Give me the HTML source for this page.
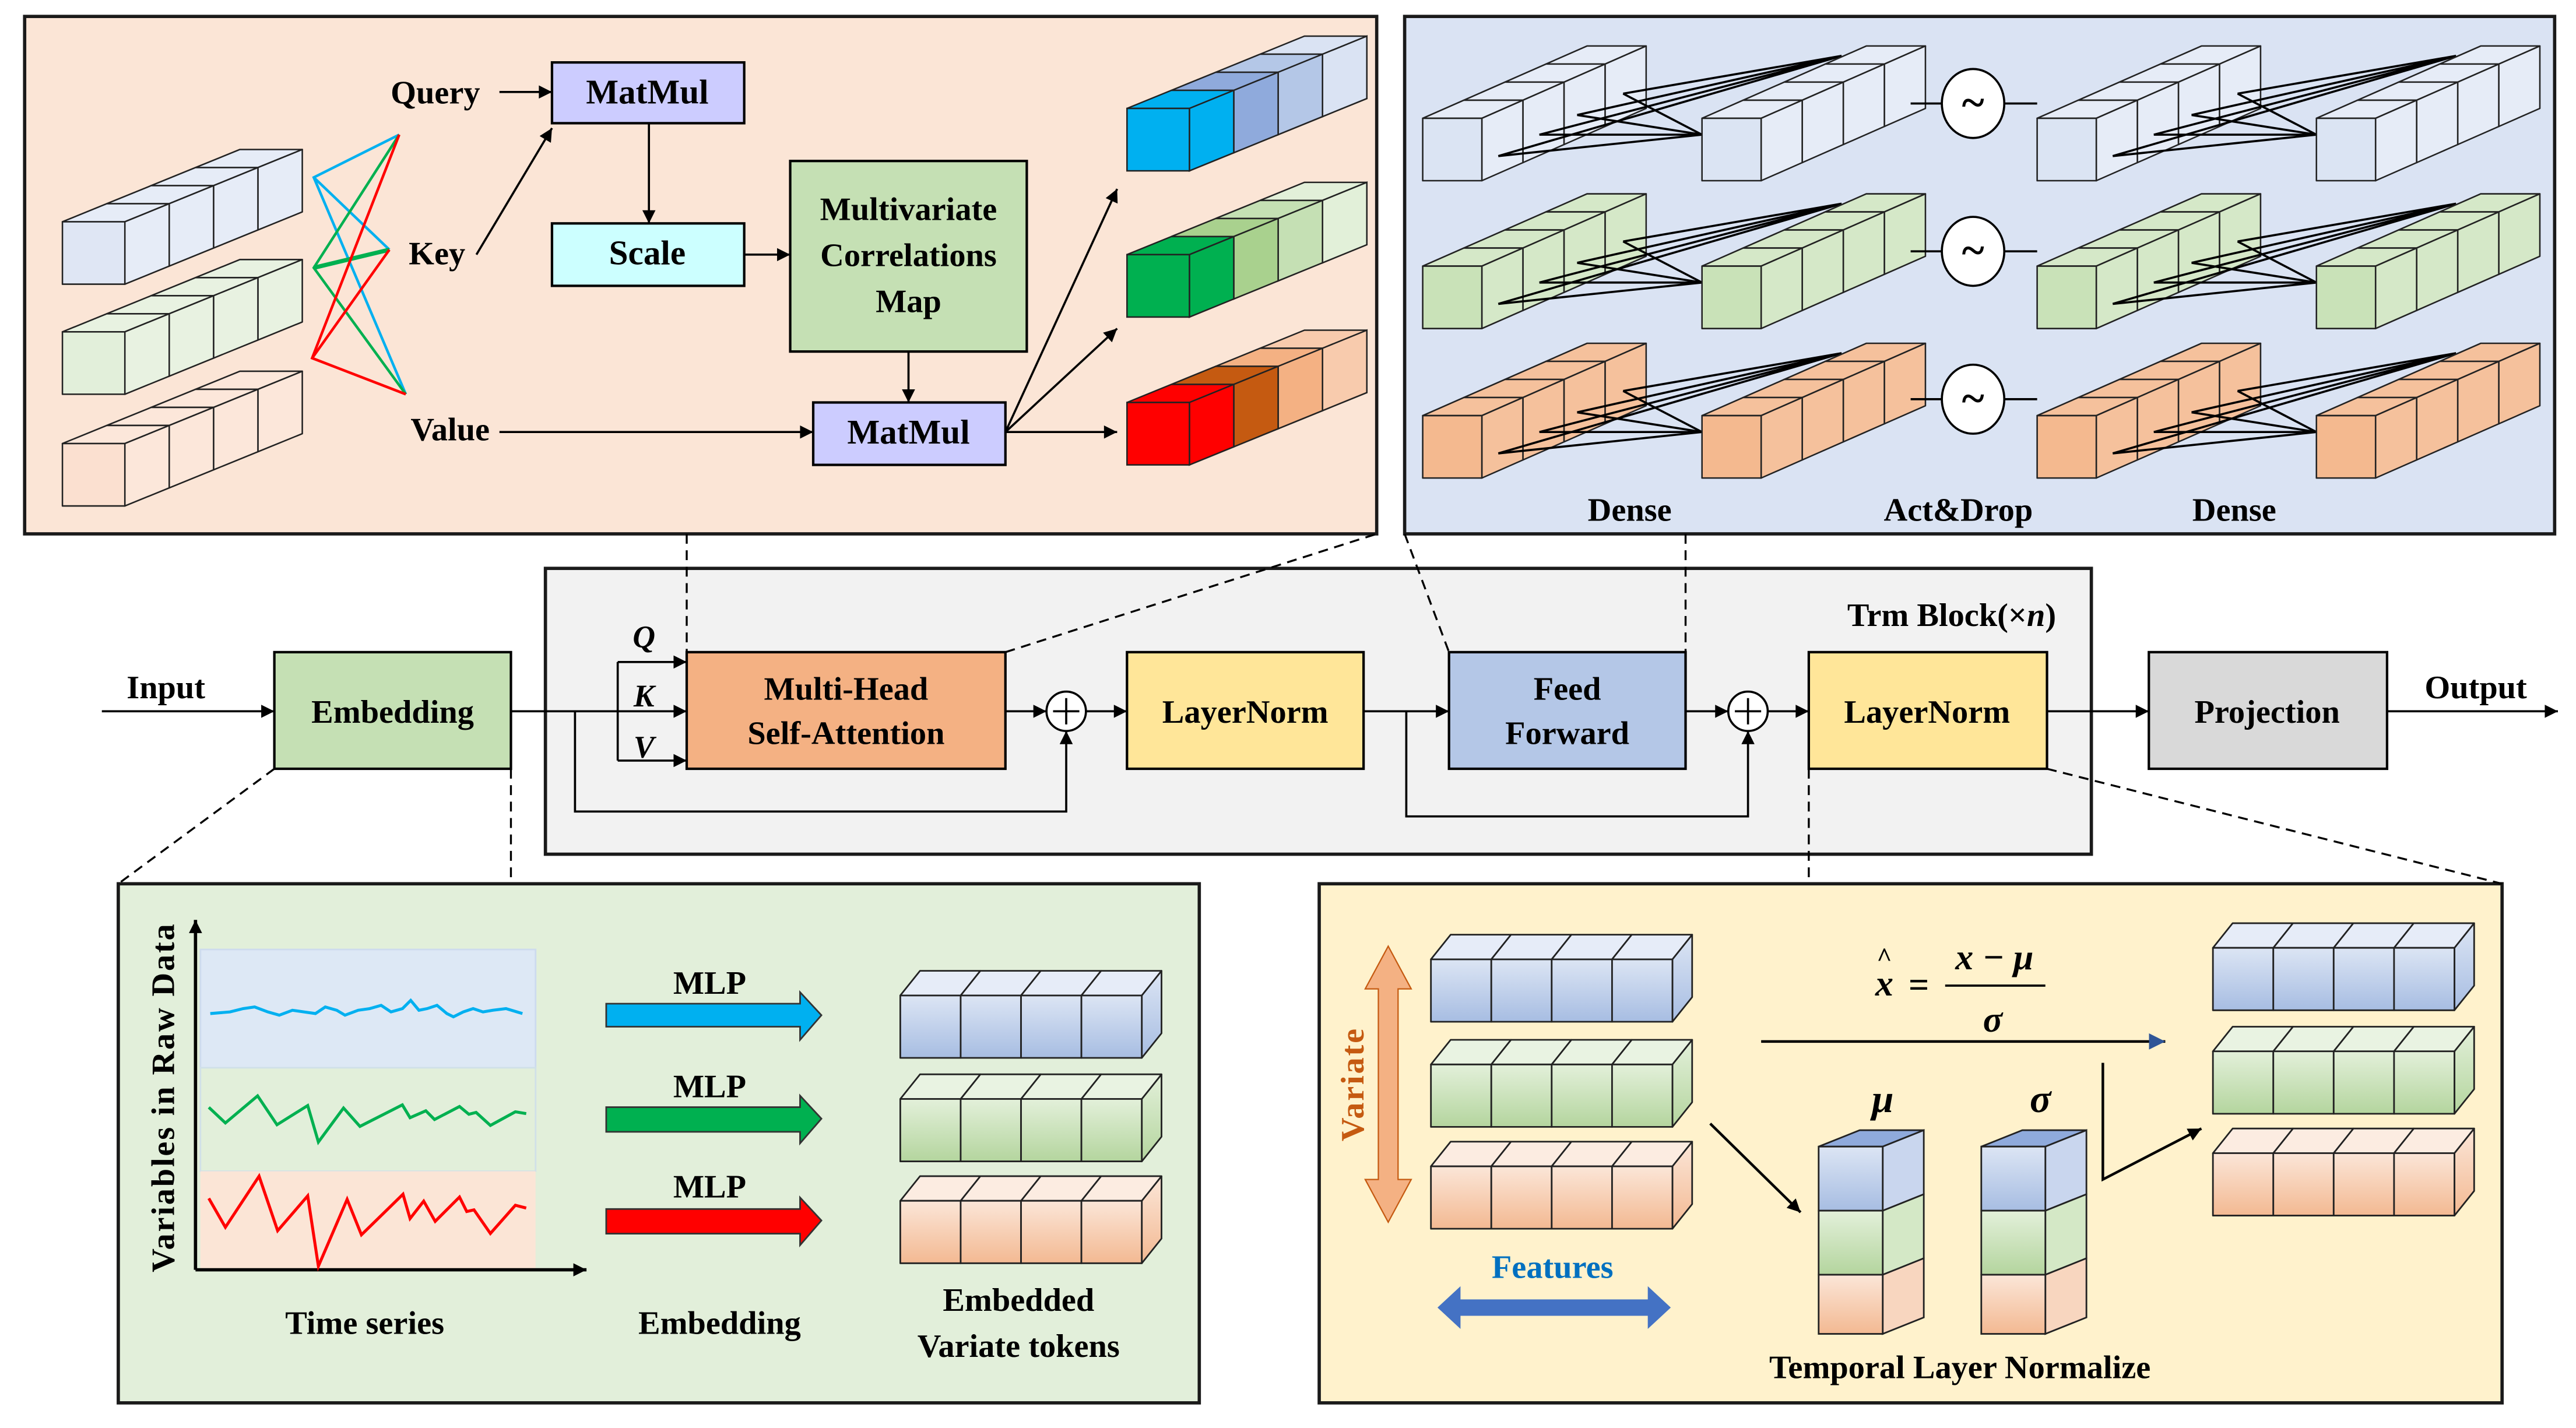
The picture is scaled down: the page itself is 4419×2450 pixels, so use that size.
<!DOCTYPE html>
<html><head><meta charset="utf-8">
<style>
html,body{margin:0;padding:0;background:#fff;}
svg{display:block;}
text{font-family:"Liberation Serif",serif;font-weight:bold;fill:#000;}
</style></head>
<body>
<svg width="4419" height="2450" viewBox="0 0 1568 869.3" preserveAspectRatio="none" xmlns="http://www.w3.org/2000/svg" xmlns:xlink="http://www.w3.org/1999/xlink">
<defs>
<marker id="a" viewBox="0 0 10 10" refX="10" refY="5" markerWidth="10" markerHeight="8" markerUnits="userSpaceOnUse" orient="auto"><path d="M0,0 L10,5 L0,10 z" fill="#000"/></marker>
<marker id="ab" viewBox="0 0 10 10" refX="10" refY="5" markerWidth="10" markerHeight="10" markerUnits="userSpaceOnUse" orient="auto"><path d="M0,0 L10,5 L0,10 z" fill="#2f5597"/></marker>
<linearGradient id="gb" x1="0" y1="0" x2="0" y2="1"><stop offset="0" stop-color="#dce5f4"/><stop offset="1" stop-color="#a7bde2"/></linearGradient>
<linearGradient id="gg" x1="0" y1="0" x2="0" y2="1"><stop offset="0" stop-color="#e3f0da"/><stop offset="1" stop-color="#b4d59e"/></linearGradient>
<linearGradient id="go" x1="0" y1="0" x2="0" y2="1"><stop offset="0" stop-color="#fbe6d8"/><stop offset="1" stop-color="#f3b992"/></linearGradient>

<g id="pA" stroke="#222" stroke-width="0.9" stroke-linejoin="round">
<polygon points="81,-33 119,-33 146,-44 108,-44"/>
<polygon points="54,-22 92,-22 119,-33 81,-33"/>
<polygon points="27,-11 65,-11 92,-22 54,-22"/>
<polygon points="0,0 38,0 65,-11 27,-11"/>
<polygon points="119,-33 146,-44 146,-6 119,5"/>
<polygon points="92,-22 119,-33 119,5 92,16"/>
<polygon points="65,-11 92,-22 92,16 65,27"/>
<polygon points="38,0 65,-11 65,27 38,38"/>
<rect x="0" y="0" width="38" height="38" fill="currentColor"/>
</g>

<g id="pD" stroke="#222" stroke-width="0.9" stroke-linejoin="round">
<polygon points="75,-33 111,-33 136,-44 100,-44"/>
<polygon points="50,-22 86,-22 111,-33 75,-33"/>
<polygon points="25,-11 61,-11 86,-22 50,-22"/>
<polygon points="0,0 36,0 61,-11 25,-11"/>
<polygon points="111,-33 136,-44 136,-6 111,5"/>
<polygon points="86,-22 111,-33 111,5 86,16"/>
<polygon points="61,-11 86,-22 86,16 61,27"/>
<polygon points="36,0 61,-11 61,27 36,38"/>
<rect x="0" y="0" width="36" height="38" fill="currentColor"/>
</g>
<g id="pair">
<use xlink:href="#pD" href="#pD"/>
<path fill="none" stroke="#000" stroke-width="1.3" d="M46,23 L170,10 M46,23 L255,-38 M71,10 L170,10 M71,10 L255,-38 M94,-2 L170,10 M94,-2 L255,-38 M122,-15 L170,10 M122,-15 L255,-38"/>
<use xlink:href="#pD" href="#pD" x="170"/>
</g>

<g id="pB" stroke="#222" stroke-width="1" stroke-linejoin="round">
<polygon points="147,0 159,-15 159,23 147,38"/>
<g fill="currentColor">
<polygon points="0,0 36.75,0 48.75,-15 12,-15"/>
<polygon points="36.75,0 73.5,0 85.5,-15 48.75,-15"/>
<polygon points="73.5,0 110.25,0 122.25,-15 85.5,-15"/>
<polygon points="110.25,0 147,0 159,-15 122.25,-15"/>
</g>
<rect x="0" y="0" width="36.75" height="38"/>
<rect x="36.75" y="0" width="36.75" height="38"/>
<rect x="73.5" y="0" width="36.75" height="38"/>
<rect x="110.25" y="0" width="36.75" height="38"/>
</g>

<g id="col" stroke="#222" stroke-width="1">
<polygon points="0,0 39,0 64,-10 25,-10" fill="#8faadc"/>
<polygon points="39,0 64,-10 64,29 39,39" fill="#c9d6ee"/>
<polygon points="39,39 64,29 64,68 39,78" fill="#d4e8c6"/>
<polygon points="39,78 64,68 64,104 39,114" fill="#f8d6bf"/>
<rect x="0" y="0" width="39" height="39" fill="url(#gb)"/>
<rect x="0" y="39" width="39" height="39" fill="url(#gg)"/>
<rect x="0" y="78" width="39" height="36" fill="url(#go)"/>
</g>
</defs>

<!-- panels -->
<rect x="15" y="10" width="823" height="315" fill="#fbe5d6" stroke="#1a1a1a" stroke-width="2"/>
<rect x="855" y="10" width="700" height="315" fill="#dae3f3" stroke="#1a1a1a" stroke-width="2"/>
<rect x="332" y="346" width="941" height="174" fill="#f2f2f2" stroke="#1a1a1a" stroke-width="2"/>
<rect x="72" y="538" width="658" height="316" fill="#e2efda" stroke="#1a1a1a" stroke-width="2"/>
<rect x="803" y="538" width="720" height="316" fill="#fff2cc" stroke="#1a1a1a" stroke-width="2"/>

<!-- dashed connectors -->
<g stroke="#000" stroke-width="1.2" stroke-dasharray="6,4" fill="none">
<line x1="418" y1="325" x2="418" y2="397"/>
<line x1="612" y1="397" x2="838" y2="325"/>
<line x1="855" y1="325" x2="882" y2="397"/>
<line x1="1026" y1="325" x2="1026" y2="397"/>
<line x1="167" y1="468" x2="72" y2="538"/>
<line x1="311" y1="468" x2="311" y2="538"/>
<line x1="1101" y1="468" x2="1101" y2="538"/>
<line x1="1246" y1="468" x2="1523" y2="538"/>
</g>

<!-- top-left prisms -->
<use xlink:href="#pA" href="#pA" x="38" y="135" fill="#e6ecf7" color="#dfe6f4"/>
<use xlink:href="#pA" href="#pA" x="38" y="202" fill="#e8f2e1" color="#e2efda"/>
<use xlink:href="#pA" href="#pA" x="38" y="270" fill="#fce7da" color="#fbe0d0"/>

<g transform="translate(686,66)" stroke="#222" stroke-width="0.9">
<polygon points="81,-33 119,-33 146,-44 108,-44" fill="#dae3f3"/>
<polygon points="54,-22 92,-22 119,-33 81,-33" fill="#b4c7e7"/>
<polygon points="27,-11 65,-11 92,-22 54,-22" fill="#8faadc"/>
<polygon points="0,0 38,0 65,-11 27,-11" fill="#00b0f0"/>
<polygon points="119,-33 146,-44 146,-6 119,5" fill="#dae3f3"/>
<polygon points="92,-22 119,-33 119,5 92,16" fill="#b4c7e7"/>
<polygon points="65,-11 92,-22 92,16 65,27" fill="#8faadc"/>
<polygon points="38,0 65,-11 65,27 38,38" fill="#00b0f0"/>
<rect x="0" y="0" width="38" height="38" fill="#00b0f0"/>
</g>
<g transform="translate(686,155)" stroke="#222" stroke-width="0.9">
<polygon points="81,-33 119,-33 146,-44 108,-44" fill="#e2f0d9"/>
<polygon points="54,-22 92,-22 119,-33 81,-33" fill="#c5e0b4"/>
<polygon points="27,-11 65,-11 92,-22 54,-22" fill="#a9d18e"/>
<polygon points="0,0 38,0 65,-11 27,-11" fill="#00b050"/>
<polygon points="119,-33 146,-44 146,-6 119,5" fill="#e2f0d9"/>
<polygon points="92,-22 119,-33 119,5 92,16" fill="#c5e0b4"/>
<polygon points="65,-11 92,-22 92,16 65,27" fill="#a9d18e"/>
<polygon points="38,0 65,-11 65,27 38,38" fill="#00b050"/>
<rect x="0" y="0" width="38" height="38" fill="#00b050"/>
</g>
<g transform="translate(686,245)" stroke="#222" stroke-width="0.9">
<polygon points="81,-33 119,-33 146,-44 108,-44" fill="#f8cbad"/>
<polygon points="54,-22 92,-22 119,-33 81,-33" fill="#f4b183"/>
<polygon points="27,-11 65,-11 92,-22 54,-22" fill="#c55a11"/>
<polygon points="0,0 38,0 65,-11 27,-11" fill="#ff0000"/>
<polygon points="119,-33 146,-44 146,-6 119,5" fill="#f8cbad"/>
<polygon points="92,-22 119,-33 119,5 92,16" fill="#f4b183"/>
<polygon points="65,-11 92,-22 92,16 65,27" fill="#c55a11"/>
<polygon points="38,0 65,-11 65,27 38,38" fill="#ff0000"/>
<rect x="0" y="0" width="38" height="38" fill="#ff0000"/>
</g>

<!-- top-left texts & boxes -->
<rect x="336" y="38" width="117" height="37" fill="#ccccff" stroke="#000" stroke-width="1.5"/>
<rect x="336" y="136" width="117" height="38" fill="#ccffff" stroke="#000" stroke-width="1.5"/>
<rect x="481" y="98" width="144" height="116" fill="#c5e0b4" stroke="#000" stroke-width="1.5"/>
<rect x="495" y="245" width="117" height="38" fill="#ccccff" stroke="#000" stroke-width="1.5"/>
<text x="394" y="63" font-size="21" text-anchor="middle">MatMul</text>
<text x="394" y="161" font-size="21" text-anchor="middle">Scale</text>
<text x="553" y="134" font-size="20" text-anchor="middle">Multivariate</text>
<text x="553" y="162" font-size="20" text-anchor="middle">Correlations</text>
<text x="553" y="190" font-size="20" text-anchor="middle">Map</text>
<text x="553" y="270" font-size="21" text-anchor="middle">MatMul</text>
<text x="265" y="63" font-size="20" text-anchor="middle">Query</text>
<text x="266" y="161" font-size="20" text-anchor="middle">Key</text>
<text x="274" y="268" font-size="20" text-anchor="middle">Value</text>
<g stroke="#000" stroke-width="1.3" fill="none" marker-end="url(#a)">
<line x1="304" y1="56" x2="336" y2="56"/>
<line x1="290" y1="155" x2="336" y2="78"/>
<line x1="395" y1="75" x2="395" y2="136"/>
<line x1="453" y1="155" x2="481" y2="155"/>
<line x1="553" y1="214" x2="553" y2="245"/>
<line x1="304" y1="263" x2="495" y2="263"/>
<line x1="612" y1="263" x2="680" y2="115"/>
<line x1="612" y1="263" x2="680" y2="200"/>
<line x1="612" y1="263" x2="680" y2="263"/>
</g>
<g fill="none" stroke-width="1.6">
<polyline points="243,82 191,108 247,240" stroke="#00b0f0"/>
<line x1="191" y1="108" x2="237" y2="152" stroke="#00b0f0"/>
<polyline points="243,82 191,163 247,240" stroke="#00b050"/>
<line x1="191" y1="163" x2="237" y2="152" stroke="#00b050" stroke-width="2.6"/>
<polyline points="243,82 190,218 247,240" stroke="#ff0000"/>
<line x1="190" y1="218" x2="237" y2="152" stroke="#ff0000"/>
</g>

<!-- top-right dense -->
<use xlink:href="#pair" href="#pair" x="866" y="72" fill="#e6ecf7" color="#dbe4f3"/>
<use xlink:href="#pair" href="#pair" x="1240" y="72" fill="#e6ecf7" color="#dbe4f3"/>
<use xlink:href="#pair" href="#pair" x="866" y="162" fill="#d5e8c8" color="#c9e2b8"/>
<use xlink:href="#pair" href="#pair" x="1240" y="162" fill="#d5e8c8" color="#c9e2b8"/>
<use xlink:href="#pair" href="#pair" x="866" y="253" fill="#f5c19c" color="#f4b98f"/>
<use xlink:href="#pair" href="#pair" x="1240" y="253" fill="#f5c19c" color="#f4b98f"/>
<g stroke="#000" stroke-width="1.3">
<line x1="1163" y1="63" x2="1240" y2="63"/>
<line x1="1163" y1="153" x2="1240" y2="153"/>
<line x1="1163" y1="243" x2="1240" y2="243"/>
<ellipse cx="1201" cy="63" rx="19" ry="21" fill="#fff"/>
<ellipse cx="1201" cy="153" rx="19" ry="21" fill="#fff"/>
<ellipse cx="1201" cy="243" rx="19" ry="21" fill="#fff"/>
</g>
<text x="1201" y="71" font-size="26" font-weight="normal" text-anchor="middle">~</text>
<text x="1201" y="161" font-size="26" font-weight="normal" text-anchor="middle">~</text>
<text x="1201" y="251" font-size="26" font-weight="normal" text-anchor="middle">~</text>
<text x="992" y="317" font-size="20" text-anchor="middle">Dense</text>
<text x="1192" y="317" font-size="20" text-anchor="middle">Act&amp;Drop</text>
<text x="1360" y="317" font-size="20" text-anchor="middle">Dense</text>

<!-- main row -->
<g stroke="#000" stroke-width="1.3" fill="none">
<line x1="62" y1="433" x2="167" y2="433" marker-end="url(#a)"/>
<line x1="311" y1="433" x2="376" y2="433"/>
<line x1="376" y1="403" x2="376" y2="463"/>
<line x1="376" y1="403" x2="418" y2="403" marker-end="url(#a)"/>
<line x1="376" y1="433" x2="418" y2="433" marker-end="url(#a)"/>
<line x1="376" y1="463" x2="418" y2="463" marker-end="url(#a)"/>
<polyline points="350,433 350,494 649,494 649,445" marker-end="url(#a)"/>
<line x1="612" y1="433" x2="637" y2="433" marker-end="url(#a)"/>
<line x1="661" y1="433" x2="686" y2="433" marker-end="url(#a)"/>
<line x1="830" y1="433" x2="882" y2="433" marker-end="url(#a)"/>
<polyline points="856,433 856,497 1064,497 1064,445" marker-end="url(#a)"/>
<line x1="1026" y1="433" x2="1052" y2="433" marker-end="url(#a)"/>
<line x1="1076" y1="433" x2="1101" y2="433" marker-end="url(#a)"/>
<line x1="1246" y1="433" x2="1308" y2="433" marker-end="url(#a)"/>
<line x1="1453" y1="433" x2="1557" y2="433" marker-end="url(#a)"/>
</g>
<rect x="167" y="397" width="144" height="71" fill="#c5e0b4" stroke="#000" stroke-width="1.5"/>
<rect x="418" y="397" width="194" height="71" fill="#f4b183" stroke="#000" stroke-width="1.5"/>
<rect x="686" y="397" width="144" height="71" fill="#ffe699" stroke="#000" stroke-width="1.5"/>
<rect x="882" y="397" width="144" height="71" fill="#b4c7e7" stroke="#000" stroke-width="1.5"/>
<rect x="1101" y="397" width="145" height="71" fill="#ffe699" stroke="#000" stroke-width="1.5"/>
<rect x="1308" y="397" width="145" height="71" fill="#d9d9d9" stroke="#000" stroke-width="1.5"/>
<circle cx="649" cy="433" r="12" fill="#fff" stroke="#000" stroke-width="1.3"/>
<path d="M641,433 H657 M649,425 V441" stroke="#000" stroke-width="1.3"/>
<circle cx="1064" cy="433" r="12" fill="#fff" stroke="#000" stroke-width="1.3"/>
<path d="M1056,433 H1072 M1064,425 V441" stroke="#000" stroke-width="1.3"/>
<text x="239" y="440" font-size="20" text-anchor="middle">Embedding</text>
<text x="515" y="426" font-size="20" text-anchor="middle">Multi-Head</text>
<text x="515" y="453" font-size="20" text-anchor="middle">Self-Attention</text>
<text x="758" y="440" font-size="20" text-anchor="middle">LayerNorm</text>
<text x="954" y="426" font-size="20" text-anchor="middle">Feed</text>
<text x="954" y="453" font-size="20" text-anchor="middle">Forward</text>
<text x="1173" y="440" font-size="20" text-anchor="middle">LayerNorm</text>
<text x="1380" y="440" font-size="20" text-anchor="middle">Projection</text>
<text x="101" y="425" font-size="20" text-anchor="middle">Input</text>
<text x="1507" y="425" font-size="20" text-anchor="middle">Output</text>
<text x="1188" y="381" font-size="20" text-anchor="middle">Trm Block(×<tspan font-style="italic">n</tspan>)</text>
<text x="392" y="394" font-size="19" font-style="italic" font-weight="normal" text-anchor="middle">Q</text>
<text x="392" y="430" font-size="19" font-style="italic" font-weight="normal" text-anchor="middle">K</text>
<text x="392" y="461" font-size="19" font-style="italic" font-weight="normal" text-anchor="middle">V</text>

<!-- bottom-left -->
<rect x="122" y="578" width="204" height="72" fill="#dde8f5" stroke="#cddbee" stroke-width="1"/>
<rect x="122" y="650" width="204" height="63" fill="#e2efda" stroke="#d0e0e8" stroke-width="1"/>
<rect x="122" y="713" width="204" height="59" fill="#fbe5d6"/>
<g stroke="#000" stroke-width="2" fill="none">
<line x1="119" y1="773" x2="119" y2="560" marker-end="url(#a)"/>
<line x1="119" y1="773" x2="357" y2="773" marker-end="url(#a)"/>
</g>
<polyline fill="none" stroke="#00b0f0" stroke-width="1.8" points="128,617 140,616 148,614 155,613 163,616 170,618 178,615 185,616 192,617 198,613 205,615 210,618 218,615 225,614 232,612 238,616 245,614 250,609 255,615 260,614 266,612 272,617 276,619 282,616 288,614 294,616 300,615 308,614 318,617"/>
<polyline fill="none" stroke="#00b050" stroke-width="1.8" points="127.1,674.1 137.2,683.6 156.8,667.1 168.6,684.7 187.3,673 193.8,695.2 209.1,674.5 219.1,685.7 244.9,672.6 249.6,680.4 259.2,676.2 264.5,681.5 279.7,673.6 285.4,678.3 289.8,677.2 298.5,685.1 313.7,676.8 320.3,677.9"/>
<polyline fill="none" stroke="#ff0000" stroke-width="1.8" points="127.1,729.5 137.2,747.1 157.7,716 169,749.2 187.3,728 193.8,770.8 211.3,730.1 220,751.7 245.3,727 249.6,741.8 257.9,731.2 264.9,743.5 279.7,728.7 284.1,737.5 288.5,736.5 298.5,750.9 313.7,733.7 320.3,735.4"/>
<g stroke="#333" stroke-width="1">
<path d="M369,611 H487 V604 L500,618 L487,633 V625 H369 Z" fill="#00b0f0"/>
<path d="M369,674 H487 V667 L500,681 L487,696 V689 H369 Z" fill="#00b050"/>
<path d="M369,736 H487 V729 L500,743 L487,758 V751 H369 Z" fill="#ff0000"/>
</g>
<text x="432" y="605" font-size="20" text-anchor="middle">MLP</text>
<text x="432" y="668" font-size="20" text-anchor="middle">MLP</text>
<text x="432" y="729" font-size="20" text-anchor="middle">MLP</text>
<use xlink:href="#pB" href="#pB" x="548" y="606" fill="url(#gb)" color="#e6ecf8"/>
<use xlink:href="#pB" href="#pB" x="548" y="669" fill="url(#gg)" color="#e9f3e2"/>
<use xlink:href="#pB" href="#pB" x="548" y="731" fill="url(#go)" color="#fcece1"/>
<text x="222" y="812" font-size="20" text-anchor="middle">Time series</text>
<text x="438" y="812" font-size="20" text-anchor="middle">Embedding</text>
<text x="620" y="798" font-size="20" text-anchor="middle">Embedded</text>
<text x="620" y="826" font-size="20" text-anchor="middle">Variate tokens</text>
<text x="0" y="0" font-size="20" text-anchor="middle" transform="translate(106,668) rotate(-90)" letter-spacing="1">Variables in Raw Data</text>

<!-- bottom-right -->
<path d="M845,576 L859,602 H851 V718 H859 L845,744 L831,718 H839 V602 H831 Z" fill="#f4b183" stroke="#c55a11" stroke-width="0.8"/>
<text x="0" y="0" font-size="20" text-anchor="middle" transform="translate(830,660) rotate(-90)" style="fill:#c55a11" letter-spacing="1">Variate</text>
<use xlink:href="#pB" href="#pB" x="871" y="584" fill="url(#gb)" color="#e6ecf8"/>
<use xlink:href="#pB" href="#pB" x="871" y="648" fill="url(#gg)" color="#e9f3e2"/>
<use xlink:href="#pB" href="#pB" x="871" y="710" fill="url(#go)" color="#fcece1"/>
<use xlink:href="#pB" href="#pB" x="1347" y="577" fill="url(#gb)" color="#e6ecf8"/>
<use xlink:href="#pB" href="#pB" x="1347" y="640" fill="url(#gg)" color="#e9f3e2"/>
<use xlink:href="#pB" href="#pB" x="1347" y="702" fill="url(#go)" color="#fcece1"/>
<use xlink:href="#col" href="#col" x="1107" y="698"/>
<use xlink:href="#col" href="#col" x="1206" y="698"/>
<text x="945" y="778" font-size="20" text-anchor="middle" style="fill:#0070c0">Features</text>
<path d="M875,796 L889,783 V791 H1003 V783 L1017,796 L1003,809 V801 H889 V809 Z" fill="#4472c4"/>
<text x="1147" y="606" font-size="22" font-style="italic" font-weight="normal" text-anchor="middle">x</text>
<text x="1147" y="588" font-size="16" font-weight="normal" text-anchor="middle">^</text>
<text x="1168" y="607" font-size="22" font-weight="normal" text-anchor="middle">=</text>
<text x="1214" y="590" font-size="22" font-style="italic" font-weight="normal" text-anchor="middle">x − μ</text>
<line x1="1184" y1="600" x2="1245" y2="600" stroke="#000" stroke-width="1.3"/>
<text x="1213" y="628" font-size="22" font-style="italic" font-weight="normal" text-anchor="middle">σ</text>
<line x1="1072" y1="634" x2="1318" y2="634" stroke="#000" stroke-width="1.6" marker-end="url(#ab)"/>
<text x="1146" y="677" font-size="24" font-style="italic" font-weight="normal" text-anchor="middle">μ</text>
<text x="1242" y="677" font-size="24" font-style="italic" font-weight="normal" text-anchor="middle">σ</text>
<g stroke="#000" stroke-width="1.6" fill="none" marker-end="url(#a)">
<line x1="1041" y1="684" x2="1096" y2="738"/>
<polyline points="1280,647 1280,718 1340,687"/>
</g>
<text x="1193" y="839" font-size="20" text-anchor="middle">Temporal Layer Normalize</text>
</svg>
</body></html>
